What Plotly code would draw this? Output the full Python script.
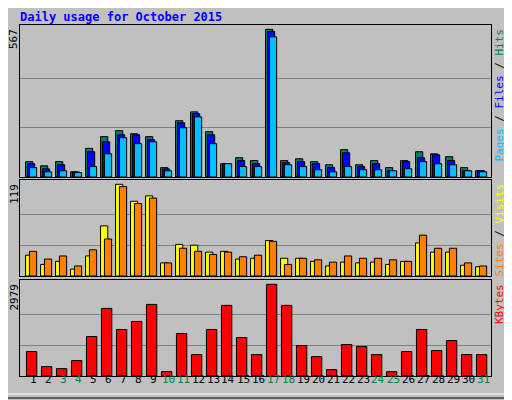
import plotly.graph_objects as go

days = list(range(1, 32))
hits = [59,43,59,20,110,155,178,166,155,36,216,250,174,51,74,63,567,63,70,59,47,105,47,63,36,63,97,89,78,36,24]
files = [51,31,47,19,97,135,162,162,143,31,208,243,162,51,63,51,559,55,59,51,36,93,40,51,24,59,74,85,63,24,24]
pages = [36,20,24,17,40,89,151,128,135,24,189,231,128,51,40,40,538,47,40,28,20,40,28,28,24,32,59,51,47,24,20]
sites = [27,15,19,9,26,65,119,97,104,17,41,40,31,32,22,23,46,23,23,19,13,18,17,18,15,19,43,31,31,14,12]
visits = [32,22,26,13,34,48,116,94,101,17,36,32,28,31,25,27,45,15,23,21,18,26,23,23,21,19,53,36,36,17,13]
kbytes = [794,304,239,500,1283,2196,1511,1772,2326,141,1380,696,1511,2294,1250,696,2979,2294,989,630,207,1022,957,696,141,794,1511,826,1152,696,696]
weekends = [3,4,10,11,17,18,24,25,31]

# page body has an 8px margin; map reference pixels to paper coords
W, H, OFF = 504, 392, 8
def px(x): return (x - OFF) / W
def py(y): return 1 - (y - OFF) / H

fig = go.Figure()
line = dict(color="black", width=1)
def bars(y, color, off, w, ax):
    fig.add_trace(go.Bar(x=days, y=y, marker=dict(color=color, line=line), offset=off, width=w,
                         xaxis="x" if ax == "y" else "x" + ax[1:], yaxis=ax, hoverinfo="skip"))
bars(hits, "#00805C", -0.5, 0.48, "y")
bars(files, "#0000FF", -0.37, 0.48, "y")
bars(pages, "#00C0FF", -0.24, 0.48, "y")
bars(sites, "#FFFF00", -0.5, 0.48, "y2")
bars(visits, "#FF8000", -0.24, 0.48, "y2")
bars(kbytes, "#FF0000", -0.44, 0.69, "y3")

xd = [px(20), px(491)]
ax_common = dict(showticklabels=False, showline=True, linecolor="black", mirror=True, zeroline=False)
xa = dict(range=[0.13, 31.53], domain=xd, showgrid=False, **ax_common)
m1, m2, m3 = max(hits), max(sites + visits), max(kbytes)
fig.update_layout(
    width=W, height=H, margin=dict(l=0, r=0, t=0, b=0),
    paper_bgcolor="#C0C0C0", plot_bgcolor="#C0C0C0", showlegend=False, barmode="overlay",
    xaxis=dict(anchor="y", **xa), xaxis2=dict(anchor="y2", **xa), xaxis3=dict(anchor="y3", **xa),
    yaxis=dict(domain=[py(177), py(25)], range=[0, m1*152/147.7], tickvals=[m1/3, 2*m1/3],
               gridcolor="#808080", anchor="x", **ax_common),
    yaxis2=dict(domain=[py(276), py(180)], range=[0, m2*96/91.7], tickvals=[m2/3, 2*m2/3],
                gridcolor="#808080", anchor="x2", **ax_common),
    yaxis3=dict(domain=[py(376), py(280)], range=[0, m3*96/91.7], tickvals=[m3/3, 2*m3/3],
                gridcolor="#808080", anchor="x3", **ax_common),
    font=dict(family="DejaVu Sans Mono", size=11),
)
fig.add_shape(type="rect", xref="paper", yref="paper", x0=-0.1, x1=px(510), y0=py(398), y1=1.1,
              line=dict(color="black", width=1))
fig.add_shape(type="rect", xref="paper", yref="paper", x0=-0.1, x1=px(505), y0=py(394), y1=1.1,
              line=dict(color="white", width=1))
fig.add_annotation(text="<b>Daily usage for October 2015</b>", x=px(18), y=py(8), xref="paper", yref="paper",
                   xanchor="left", yanchor="top", showarrow=False, font=dict(color="#0000FF", size=12))
for val, ytop in [(m1, 25), (m2, 180), (m3, 280)]:
    fig.add_annotation(text=str(val), x=px(14), y=py(ytop + 2), xref="paper", yref="paper", textangle=-90,
                       xanchor="center", yanchor="top", showarrow=False, font=dict(color="black", size=11))
legends = [
    ('<span style="color:#00C0FF">Pages</span> / <span style="color:#0000FF">Files</span> / <span style="color:#00805C">Hits</span>', 25),
    ('<span style="color:#FF8000">Sites</span> / <span style="color:#FFFF00">Visits</span>', 180),
    ('<span style="color:#FF0000">KBytes</span>', 280),
]
for t, ytop in legends:
    fig.add_annotation(text=t, x=px(499), y=py(ytop + 2), xref="paper", yref="paper", textangle=-90,
                       xanchor="center", yanchor="top", showarrow=False, font=dict(color="black", size=11))
for d in days:
    fig.add_annotation(text=str(d), x=d, y=py(388), xref="x3", yref="paper", showarrow=False,
                       font=dict(color="#008040" if d in weekends else "black", size=11))
fig.write_html("out.html")
